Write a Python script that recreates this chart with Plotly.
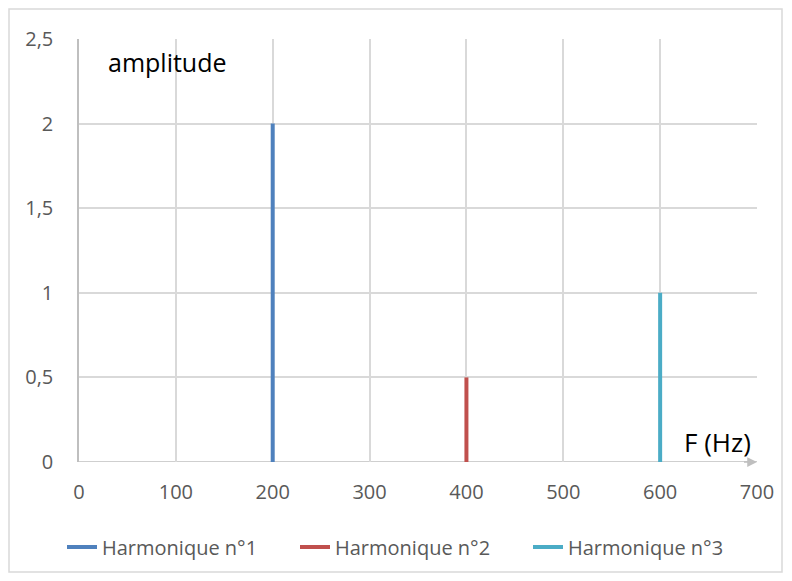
import plotly.graph_objects as go

freqs = [200, 400, 600]
amps = [2, 0.5, 1]
names = ["Harmonique n°1", "Harmonique n°2", "Harmonique n°3"]
colors = ["#4F81BD", "#C0504D", "#4BACC6"]

x_ticks = [0, 100, 200, 300, 400, 500, 600, 700]
y_ticks = [0, 0.5, 1, 1.5, 2, 2.5]

FONT = "Open Sans"

fig = go.Figure()
for f, a, n, c in zip(freqs, amps, names, colors):
    fig.add_trace(go.Scatter(x=[f, f], y=[0, a], mode="lines", name=n,
                             line=dict(color=c, width=4)))

L, R, T, B = 79, 757, 39, 462
W, H = 792, 581
pw, ph = R - L, B - T

fig.update_layout(
    width=W, height=H,
    margin=dict(l=L, r=W - R, t=T, b=H - B, autoexpand=False),
    paper_bgcolor="white", plot_bgcolor="white",
    separators=", ",
    font=dict(family=FONT, size=20, color="#595959"),
    showlegend=True,
    legend=dict(orientation="h", x=(67 - 5 - L) / pw, xanchor="left",
                y=(B - 547) / ph, yanchor="middle", bgcolor="rgba(0,0,0,0)",
                font=dict(size=20, color="#595959"), entrywidth=188,
                entrywidthmode="pixels"),
    xaxis=dict(range=[0, 700], tickvals=x_ticks, ticktext=[str(v) for v in x_ticks],
               showgrid=True, gridcolor="#D9D9D9", gridwidth=1.5, zeroline=False,
               showline=False, ticks="", ticklabelstandoff=16),
    yaxis=dict(range=[0, 2.5], tickvals=y_ticks,
               ticktext=["0", "0,5", "1", "1,5", "2", "2,5"],
               showgrid=True, gridcolor="#D9D9D9", gridwidth=1.5, zeroline=False,
               showline=True, linecolor="#BFBFBF", linewidth=1.5, ticks="",
               ticklabelstandoff=20),
    shapes=[
        dict(type="rect", xref="paper", yref="paper",
             x0=(9 - L) / pw, x1=(782 - L) / pw,
             y0=(B - 572) / ph, y1=(B - 9) / ph,
             line=dict(color="#D9D9D9", width=1.5), layer="below"),
        dict(type="line", xref="x", yref="y", x0=0, x1=700, y0=0, y1=0,
             line=dict(color="#BFBFBF", width=1.5), layer="below"),
    ],
    annotations=[
        dict(x=700, y=0, ax=685, ay=0, xref="x", yref="y", axref="x", ayref="y",
             showarrow=True, arrowhead=2, arrowsize=1.3, arrowwidth=1.5,
             arrowcolor="#BFBFBF", text=""),
        dict(x=28, y=2.364, xref="x", yref="y", xanchor="left", yanchor="middle",
             text="amplitude", showarrow=False, font=dict(size=25, color="black")),
        dict(x=623, y=0.118, xref="x", yref="y", xanchor="left", yanchor="middle",
             text="F (Hz)", showarrow=False, font=dict(size=26, color="black")),
    ],
)

fig.write_html("out.html")
